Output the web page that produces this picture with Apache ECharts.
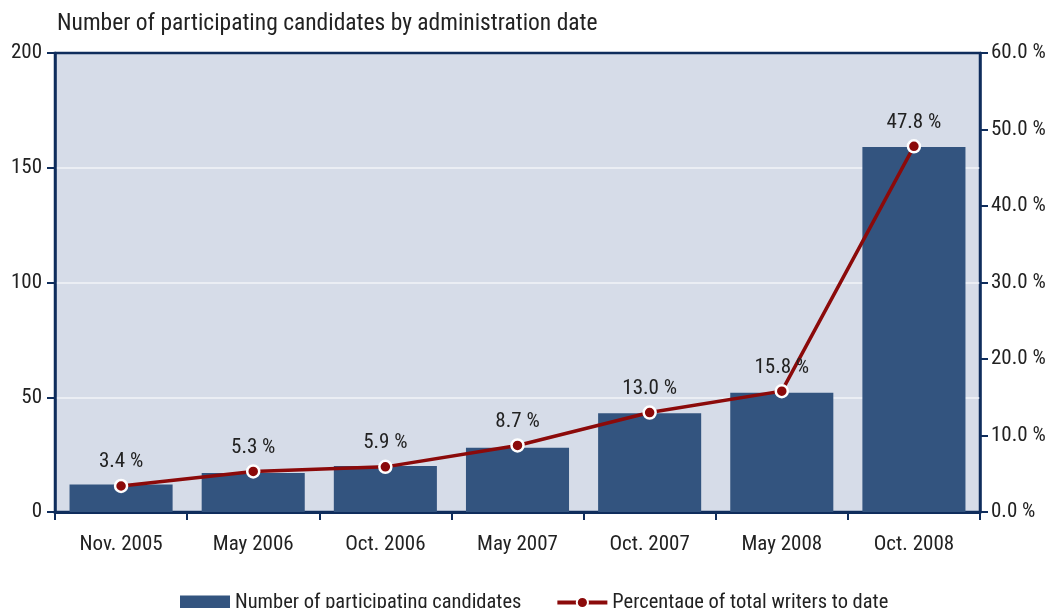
<!DOCTYPE html>
<html><head><meta charset="utf-8">
<script src="https://cdn.jsdelivr.net/npm/echarts@6/dist/echarts.min.js"></script>
<style>html,body{margin:0;padding:0;background:#fff}#c{width:1054px;height:608px}</style>
</head><body><div id="c"></div>
<script>
const categories = ['Nov. 2005','May 2006','Oct. 2006','May 2007','Oct. 2007','May 2008','Oct. 2008'];
const candidates = [12, 17, 20, 28, 43, 52, 159];
const percentages = [3.4, 5.3, 5.9, 8.7, 13.0, 15.8, 47.8];
const titleText = 'Number of participating candidates by administration date';
const barName = 'Number of participating candidates';
const lineName = 'Percentage of total writers to date';

const FONT = '"Liberation Sans Narrow", "Roboto Condensed", "DejaVu Sans Condensed", sans-serif';
const NAVY = '#0f2d5c';
const chart = echarts.init(document.getElementById('c'));
chart.setOption({
  animation: false,
  backgroundColor: '#fff',
  textStyle: {fontFamily: FONT},
  title: {text: titleText, left: 52, top: 7, textStyle: {fontFamily: FONT, fontSize: 23.5, fontWeight: 'normal', color: '#222'}},
  grid: {left: 55, right: 74, top: 53, bottom: 96, show: true, backgroundColor: '#d6dce8', borderColor: NAVY, borderWidth: 2.5},
  legend: {bottom: -10, left: 175, itemGap: 34, itemWidth: 50, itemHeight: 14,
    textStyle: {fontFamily: FONT, fontSize: 20.5, color: '#222'},
    data: [{name: barName, icon: 'rect'}, {name: lineName, lineStyle: {width: 4}}]},
  xAxis: {type: 'category', data: categories,
    axisLine: {lineStyle: {color: NAVY, width: 3}},
    axisTick: {show: true, length: 8, lineStyle: {color: NAVY, width: 2}},
    axisLabel: {fontFamily: FONT, fontSize: 21, color: '#222', margin: 22}},
  yAxis: [
    {type: 'value', min: 0, max: 200, interval: 50,
      axisLine: {show: true, lineStyle: {color: NAVY, width: 2.5}},
      axisTick: {show: true, length: 8, lineStyle: {color: NAVY, width: 2}},
      axisLabel: {fontFamily: FONT, fontSize: 21, color: '#222', margin: 13},
      splitLine: {showMinLine: false, showMaxLine: false, lineStyle: {color: '#f2f4f8', width: 1.5}}},
    {type: 'value', min: 0, max: 60, interval: 10, position: 'right',
      axisLine: {show: true, lineStyle: {color: NAVY, width: 2.5}},
      axisTick: {show: true, length: 8, lineStyle: {color: NAVY, width: 2}},
      axisLabel: {fontFamily: FONT, fontSize: 21, color: '#222', margin: 11, formatter: v => v.toFixed(1) + ' %'},
      splitLine: {show: false}}
  ],
  series: [
    {name: barName, type: 'bar', data: candidates, barCategoryGap: '22%', itemStyle: {color: '#33547f'}},
    {name: lineName, type: 'line', yAxisIndex: 1, data: percentages,
      symbol: 'circle', symbolSize: 12,
      lineStyle: {color: '#8b0a0a', width: 3.5},
      itemStyle: {color: '#8b0a0a', borderColor: '#fff', borderWidth: 2.5},
      label: {show: true, position: 'top', distance: 6, fontFamily: FONT, fontSize: 21, color: '#222',
        formatter: p => p.value.toFixed(1) + ' %'}}
  ]
});
</script></body></html>
